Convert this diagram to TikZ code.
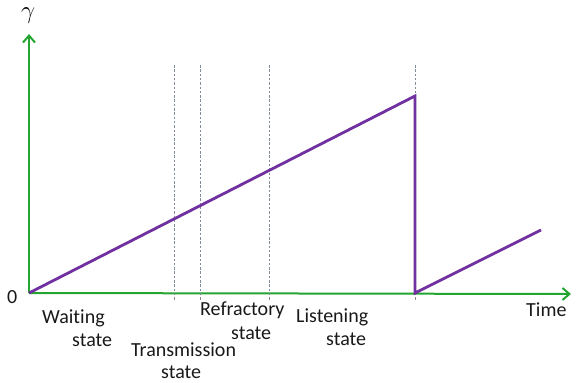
\documentclass[tikz,border=0pt]{standalone}
\usepackage{fontspec}
\setmainfont{Carlito}[Ligatures=NoCommon]
\usetikzlibrary{arrows.meta}
\definecolor{axisgreen}{RGB}{36,164,48}
\definecolor{rampviolet}{RGB}{112,48,160}
\definecolor{guidegray}{RGB}{130,140,150}
\begin{document}
\begin{tikzpicture}[x=1pt,y=-1pt,
  axis/.style={draw=axisgreen,line width=2pt,-{Straight Barb[length=7pt,width=12pt,line width=2pt]}},
  ramp/.style={draw=rampviolet,line width=2.8pt,line join=miter},
  guide/.style={draw=guidegray,line width=0.8pt,dash pattern=on 2.5pt off 1.8pt},
  lbl/.style={font=\fontsize{20}{24}\selectfont,inner sep=0pt,anchor=base west,text=black!90}]
\useasboundingbox (0,0) rectangle (582,383);
% axes
\coordinate (O) at (29,293);
\coordinate (ytip) at (29,34);
\coordinate (xtip) at (571,294);
\draw[axis] (O) -- (ytip);
\draw[axis] (O) -- (xtip);
\node[inner sep=0pt,font=\fontsize{24}{26}\selectfont] (gamma) at (28,16) {$\gamma$};
\node[lbl] (zero) at (7,303) {0};
\node[lbl] (time) at (526,316) {Time};
% state boundaries
\coordinate (g1t) at (174,65); \coordinate (g1b) at (174,300);
\coordinate (g2t) at (200,65); \coordinate (g2b) at (200,300);
\coordinate (g3t) at (269,65); \coordinate (g3b) at (269,300);
\coordinate (g4t) at (415,65); \coordinate (g4b) at (415,300);
\draw[guide] (g1t) -- (g1b);
\draw[guide] (g2t) -- (g2b);
\draw[guide] (g3t) -- (g3b);
\draw[guide] (g4t) -- (g4b);
% sawtooth
\coordinate (peak) at (415,96);
\coordinate (drop) at (415,293);
\coordinate (rise) at (541,230);
\draw[ramp] (O) -- (peak) -- (drop) -- (rise);
% state labels, second line indented
\node[lbl] (waitingA) at (42,323) {Waiting};
\node[lbl] (waitingB) at (72,346) {state};
\node[lbl] (transA) at (131,356) {Transmission};
\node[lbl] (transB) at (161,378) {state};
\node[lbl] (refrA) at (200,315) {Refractory};
\node[lbl] (refrB) at (231,339) {state};
\node[lbl] (listenA) at (296,322) {Listening};
\node[lbl] (listenB) at (326,345) {state};
\end{tikzpicture}
\end{document}
